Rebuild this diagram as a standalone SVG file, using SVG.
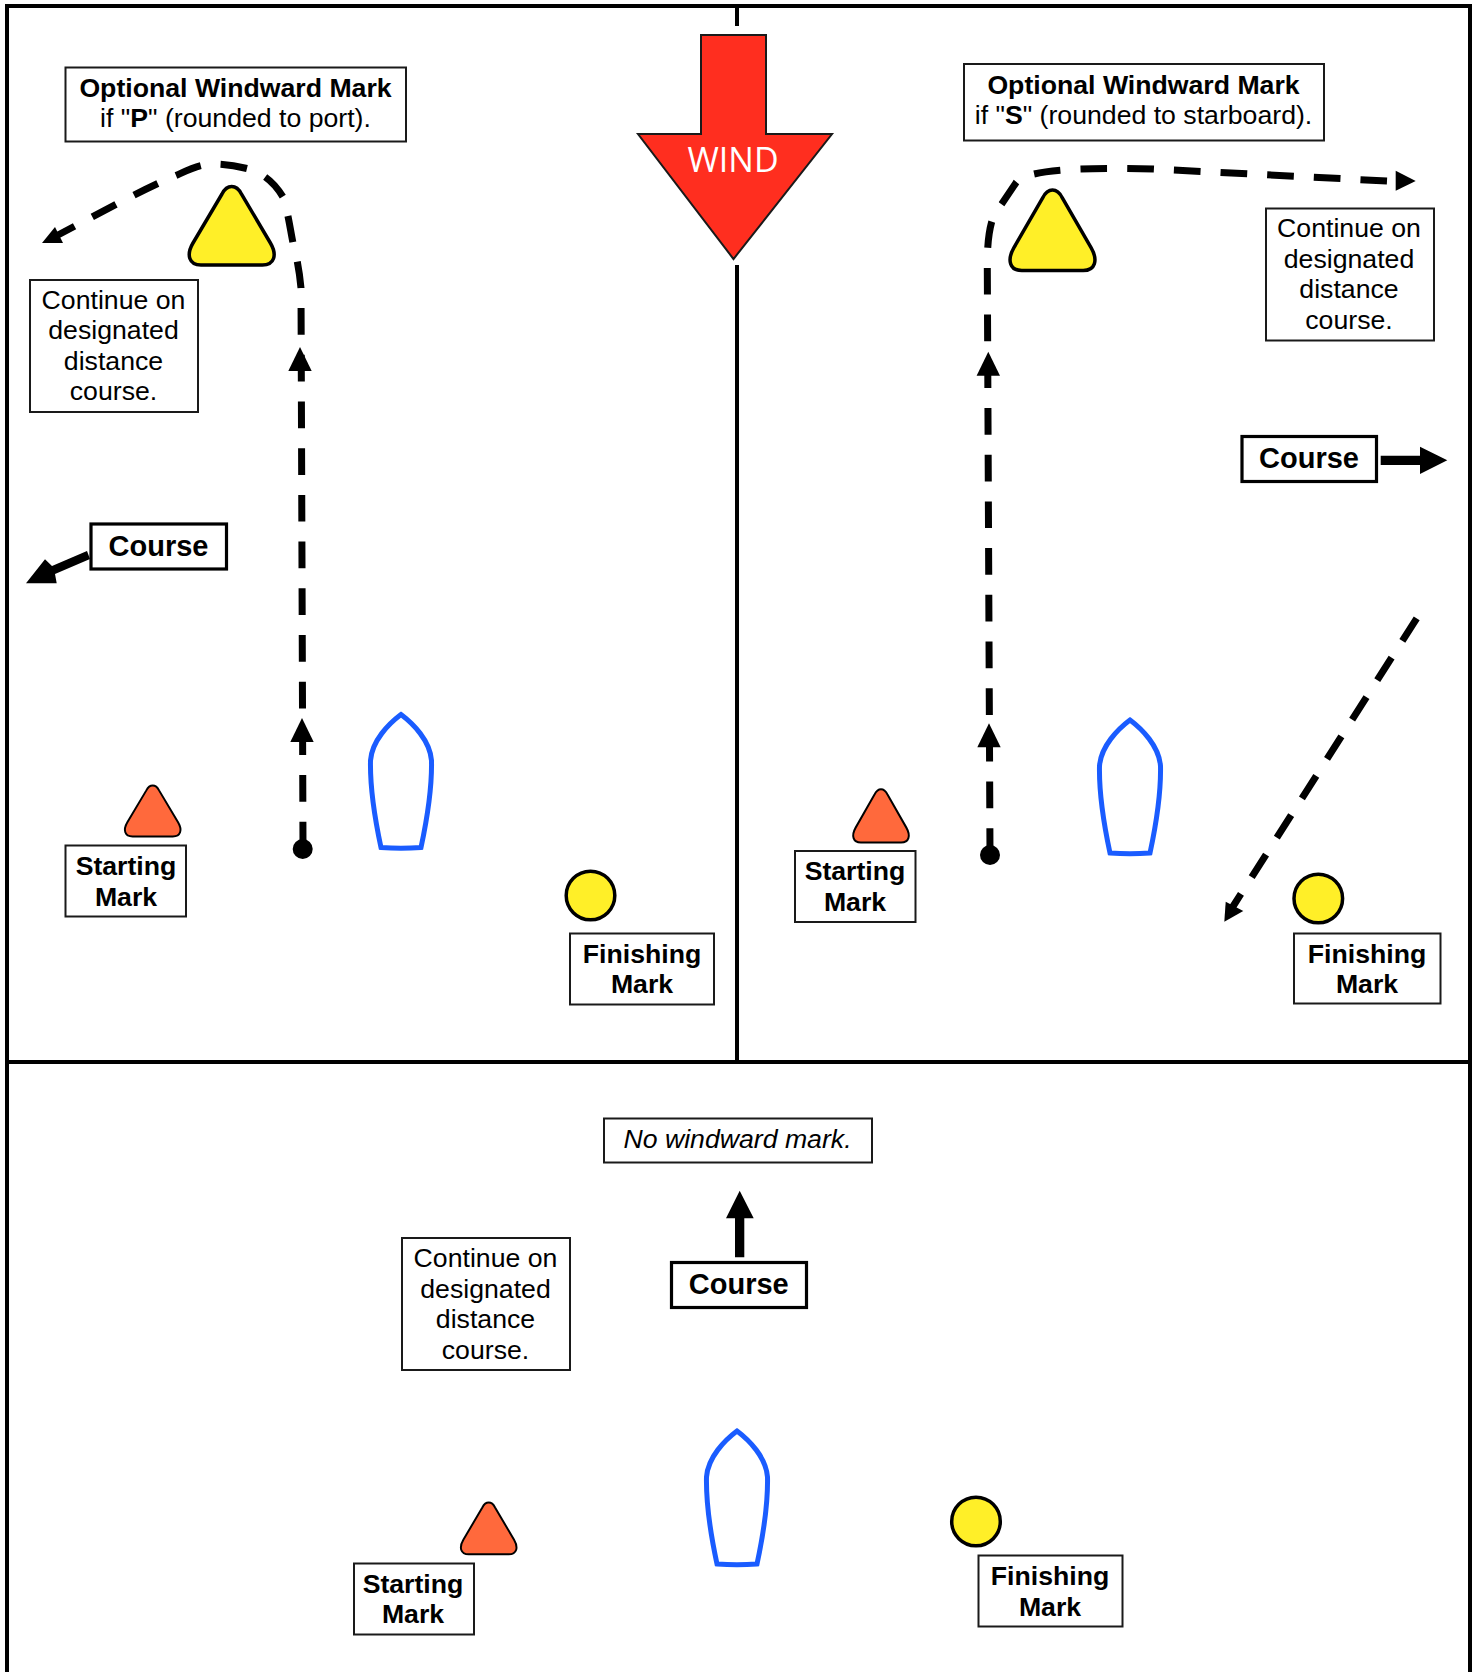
<svg xmlns="http://www.w3.org/2000/svg" xmlns:xlink="http://www.w3.org/1999/xlink" width="1477" height="1672" viewBox="0 0 1477 1672">
<style>
.box{fill:#fff;stroke:#1a1a1a;stroke-width:2}
.cbox{fill:#fff;stroke:#000;stroke-width:3.2}
.t{font-family:"Liberation Sans",Arial,sans-serif;font-size:26.66px;text-anchor:middle;fill:#000}
.b{font-weight:700}
.c{font-family:"Liberation Sans",Arial,sans-serif;font-size:29px;font-weight:700;text-anchor:middle;fill:#000}
.i{font-style:italic}
.dash{fill:none;stroke:#000;stroke-width:7;stroke-dasharray:26.7 20}
.head{fill:#000;stroke:none}
.ym{fill:#ffef28;stroke:#000;stroke-width:3.5;vector-effect:non-scaling-stroke}
.om{fill:#ff693c;stroke:#000;stroke-width:3;vector-effect:non-scaling-stroke}
.boat{fill:#fff;stroke:#1a5cff;stroke-width:5;stroke-linejoin:miter}
</style>
<defs>
<path id="tri" d="M-9.7,7.5 L-38.7,56.5 C-45.7,68.5 -42.7,78.5 -30.7,78.5 L30.7,78.5 C42.7,78.5 45.7,68.5 38.7,56.5 L9.7,7.5 C4.7,-2.5 -4.7,-2.5 -9.7,7.5 Z"/>
<path id="hull" d="M0,0 C-12,9 -29,26 -30.5,46 C-31,70 -26,105 -20,133 C-7,134 7,134 20,133 C26,105 31,70 30.5,46 C29,26 12,9 0,0 Z"/>
<path id="up" d="M0,0 L11.7,24 L-11.7,24 Z"/>
</defs>
<rect width="1477" height="1672" fill="#fff"/>
<g id="frame" fill="none" stroke="#000" stroke-width="4">
<path d="M7,1672 V6 H1470 V1672"/>
<path d="M7,1062 H1470"/>
<path d="M737,6 V26 M737,265 V1062"/>
</g>
<g id="wind">
<path d="M701,35 H766 V134 H832 L733.5,259 L638,134 H701 Z" fill="#ff2e1f" stroke="#1a1a1a" stroke-width="2"/>
<text x="733" y="172" font-family="'Open Sans',sans-serif" font-size="34" fill="#fff" text-anchor="middle">WIND</text>
</g>
<g id="connectors">
<path class="dash" d="M303,848.5 L301,288 C299.5,272 297,258 293,243 C290,228 288,212 283,197 C277,187 267,174 247,168.5 C235,165.5 224,164 213,164 C200,164 188,170 177,175 C145,188 100,213 58,235"/>
<circle cx="302.7" cy="849" r="10"/>
<use class="head" href="#up" x="302" y="718"/>
<use class="head" href="#up" x="300" y="347"/>
<path class="head" d="M42,243 L55,227 L59,235 L63,243 Z"/>
<path class="dash" d="M990,855 L987.3,268 C987.2,250 988,235 991.7,221.7 C995,212 998,209 1001.7,204 L1016,182.7 C1021,176 1027,175 1034,174 C1045,171.5 1060,170 1080,169 C1100,168.3 1130,168.5 1153.7,169 L1387,181"/>
<circle cx="990" cy="855" r="10"/>
<use class="head" href="#up" x="989" y="723.3"/>
<use class="head" href="#up" x="988.3" y="351.7"/>
<path class="head" d="M1395.7,170.7 L1415.7,181 L1395.7,190.7 Z"/>
<path class="dash" d="M1416.7,618.3 L1232,908"/>
<path class="head" d="M1224.3,921.7 L1225.7,901.7 L1243.3,911 Z"/>
<path class="head" d="M87,551 L52,566 L45,559.3 L26,583.3 L56.7,583.3 L55,574 L90,559 Z"/>
<path class="head" d="M1380.7,455.7 H1420 V446.7 L1447.3,460.3 L1420,474 V465 H1380.7 Z"/>
<path class="head" d="M735,1257.3 V1218.3 H726 L739.7,1190.7 L753.7,1218.3 H744.3 V1257.3 Z"/>
</g>
<g id="left-windward-label"><rect class="box" x="65.5" y="67.5" width="340.5" height="74"/>
<text class="t b" x="235.5" y="97">Optional Windward Mark</text>
<text class="t" x="235.5" y="127">if "<tspan class="b">P</tspan>" (rounded to port).</text></g>
<g id="left-windward-mark"><use class="ym" href="#tri" transform="translate(231.7,186.5)"/></g>
<g id="left-continue"><rect class="box" x="30" y="280" width="168" height="132"/>
<text class="t" x="113.5" y="309">Continue on</text><text class="t" x="113.5" y="339">designated</text><text class="t" x="113.5" y="370">distance</text><text class="t" x="113.5" y="400">course.</text></g>
<g id="left-course"><rect class="cbox" x="91" y="524" width="135.5" height="45"/><text class="c" x="158.5" y="556">Course</text></g>
<g id="left-start-mark"><use class="om" href="#tri" transform="translate(152.7,785.5) scale(.655,.65)"/></g>
<g id="left-start-label"><rect class="box" x="65.5" y="845.5" width="120.5" height="71"/>
<text class="t b" x="126" y="875">Starting</text><text class="t b" x="126" y="905.5">Mark</text></g>
<g id="left-boat"><use class="boat" href="#hull" x="401" y="714.5"/></g>
<g id="left-finish-mark"><circle class="ym" cx="590.5" cy="895.5" r="24.3"/></g>
<g id="left-finish-label"><rect class="box" x="570" y="933.5" width="144" height="71"/>
<text class="t b" x="642" y="963">Finishing</text><text class="t b" x="642" y="993">Mark</text></g>
<g id="right-windward-label"><rect class="box" x="964" y="64" width="360" height="76.5"/>
<text class="t b" x="1143.5" y="93.7">Optional Windward Mark</text>
<text class="t" x="1143.5" y="124.3">if "<tspan class="b">S</tspan>" (rounded to starboard).</text></g>
<g id="right-windward-mark"><use class="ym" href="#tri" transform="translate(1052.5,190) scale(1,1.025)"/></g>
<g id="right-continue"><rect class="box" x="1266" y="208.5" width="168" height="132"/>
<text class="t" x="1349" y="237.3">Continue on</text><text class="t" x="1349" y="268.3">designated</text><text class="t" x="1349" y="298.3">distance</text><text class="t" x="1349" y="329">course.</text></g>
<g id="right-course"><rect class="cbox" x="1242" y="436.5" width="134.5" height="45"/><text class="c" x="1309" y="468.3">Course</text></g>
<g id="right-start-mark"><use class="om" href="#tri" transform="translate(881,789.2) scale(.655,.68)"/></g>
<g id="right-start-label"><rect class="box" x="795" y="851" width="120.5" height="71"/>
<text class="t b" x="855" y="880">Starting</text><text class="t b" x="855" y="910.7">Mark</text></g>
<g id="right-boat"><use class="boat" href="#hull" x="1130" y="720"/></g>
<g id="right-finish-mark"><circle class="ym" cx="1318.3" cy="898.5" r="24.3"/></g>
<g id="right-finish-label"><rect class="box" x="1294" y="933.5" width="146.5" height="70"/>
<text class="t b" x="1367" y="962.7">Finishing</text><text class="t b" x="1367" y="993.3">Mark</text></g>
<g id="bottom-no-mark"><rect class="box" x="604" y="1118.5" width="268" height="44"/>
<text class="t i" x="737.5" y="1148">No windward mark.</text></g>
<g id="bottom-course"><rect class="cbox" x="671.5" y="1262.5" width="135" height="45"/><text class="c" x="738.8" y="1294.3">Course</text></g>
<g id="bottom-continue"><rect class="box" x="402" y="1238" width="168" height="132"/>
<text class="t" x="485.5" y="1267.3">Continue on</text><text class="t" x="485.5" y="1298.3">designated</text><text class="t" x="485.5" y="1328.3">distance</text><text class="t" x="485.5" y="1359.3">course.</text></g>
<g id="bottom-start-mark"><use class="om" href="#tri" transform="translate(488.7,1502.5) scale(.655,.66)"/></g>
<g id="bottom-start-label"><rect class="box" x="354" y="1563.5" width="120" height="71"/>
<text class="t b" x="413" y="1592.7">Starting</text><text class="t b" x="413" y="1623">Mark</text></g>
<g id="bottom-boat"><use class="boat" href="#hull" x="737" y="1431"/></g>
<g id="bottom-finish-mark"><circle class="ym" cx="976" cy="1521.5" r="24.3"/></g>
<g id="bottom-finish-label"><rect class="box" x="978.5" y="1555.5" width="144" height="71"/>
<text class="t b" x="1050" y="1585">Finishing</text><text class="t b" x="1050" y="1616">Mark</text></g>
</svg>
